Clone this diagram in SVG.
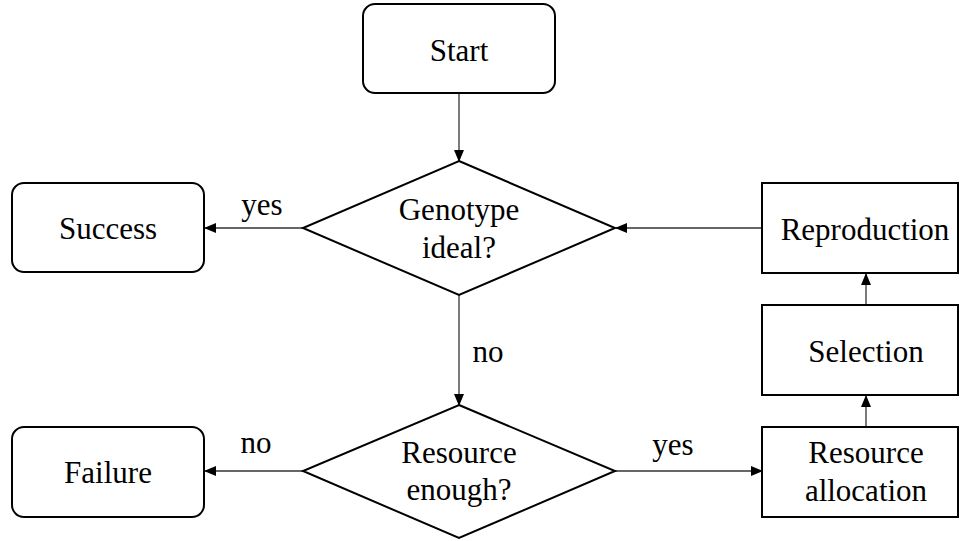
<svg xmlns="http://www.w3.org/2000/svg" width="960" height="541" viewBox="0 0 960 541">
<style>
.box{fill:#fff;stroke:#000;stroke-width:2}
.t{font-family:'Liberation Serif','Times New Roman','DejaVu Serif',serif;font-size:31px;fill:#000;text-anchor:middle}
.c{stroke:#333;stroke-width:1.3;fill:none;marker-end:url(#ah)}
</style>
<defs>
<marker id="ah" markerWidth="12" markerHeight="10" refX="11" refY="5" orient="auto" markerUnits="userSpaceOnUse">
<path d="M0,0 L12,5 L0,10 Z" fill="#000"/>
</marker>
</defs>
<rect width="960" height="541" fill="#fff"/>
<g id="connectors">
<line class="c" x1="459" y1="93" x2="459" y2="161"/>
<line class="c" x1="303" y1="228" x2="205" y2="228"/>
<line class="c" x1="762" y1="228" x2="616" y2="228"/>
<line class="c" x1="459" y1="295" x2="459" y2="405"/>
<line class="c" x1="303" y1="471" x2="205" y2="471"/>
<line class="c" x1="615" y1="471" x2="762" y2="471"/>
<line class="c" x1="866" y1="427" x2="866" y2="396"/>
<line class="c" x1="866" y1="305" x2="866" y2="274"/>
<text class="t" font-family="Liberation Serif, serif" x="262" y="215">yes</text>
<text class="t" font-family="Liberation Serif, serif" x="488" y="362">no</text>
<text class="t" font-family="Liberation Serif, serif" x="256" y="453">no</text>
<text class="t" font-family="Liberation Serif, serif" x="673" y="455">yes</text>
</g>
<g id="start">
<rect class="box" x="363" y="4" width="192" height="89" rx="12"/>
<text class="t" font-family="Liberation Serif, serif" x="459" y="61">Start</text>
</g>
<g id="genotype">
<polygon class="box" points="459,161 615,228 459,295 303,228"/>
<text class="t" font-family="Liberation Serif, serif" x="459" y="220">Genotype</text>
<text class="t" font-family="Liberation Serif, serif" x="459" y="258">ideal?</text>
</g>
<g id="success">
<rect class="box" x="12" y="183" width="192" height="89" rx="12"/>
<text class="t" font-family="Liberation Serif, serif" x="108" y="239">Success</text>
</g>
<g id="reproduction">
<rect class="box" x="762" y="183" width="196" height="90"/>
<text class="t" font-family="Liberation Serif, serif" x="865" y="240">Reproduction</text>
</g>
<g id="selection">
<rect class="box" x="762" y="305" width="196" height="90"/>
<text class="t" font-family="Liberation Serif, serif" x="866" y="362">Selection</text>
</g>
<g id="allocation">
<rect class="box" x="762" y="427" width="196" height="90"/>
<text class="t" font-family="Liberation Serif, serif" x="866" y="463">Resource</text>
<text class="t" font-family="Liberation Serif, serif" x="866" y="501">allocation</text>
</g>
<g id="resource">
<polygon class="box" points="459,405 615,471 459,538 303,471"/>
<text class="t" font-family="Liberation Serif, serif" x="459" y="463">Resource</text>
<text class="t" font-family="Liberation Serif, serif" x="459" y="500">enough?</text>
</g>
<g id="failure">
<rect class="box" x="12" y="427" width="192" height="90" rx="12"/>
<text class="t" font-family="Liberation Serif, serif" x="108" y="483">Failure</text>
</g>
</svg>
